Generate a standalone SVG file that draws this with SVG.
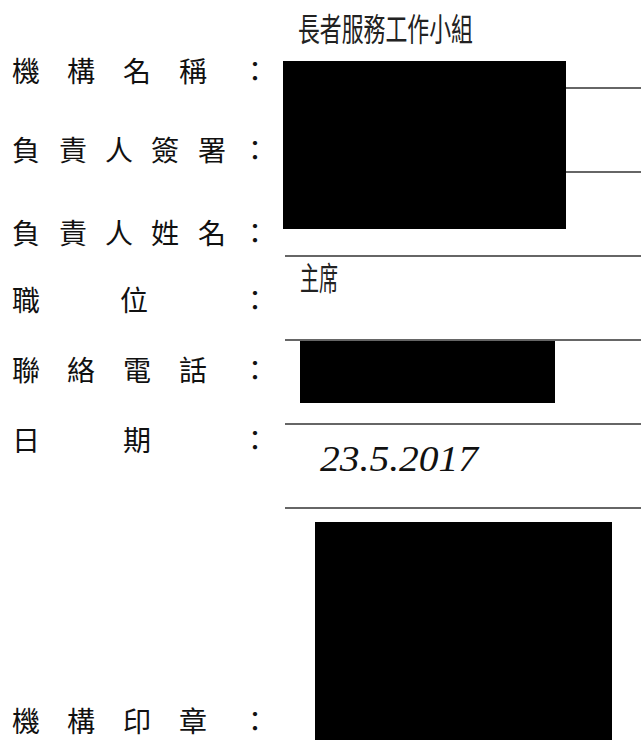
<svg xmlns="http://www.w3.org/2000/svg" width="641" height="740" viewBox="0 0 641 740">
<style>
.lbl{font-family:"Noto Sans CJK TC","Noto Sans CJK SC",sans-serif;font-size:28px;fill:#111;}
.val{font-family:"Noto Sans CJK TC","Noto Sans CJK SC",sans-serif;font-size:32px;fill:#222;}
.hand{font-family:"Liberation Serif",serif;font-style:italic;font-size:36px;fill:#111;}
.rule{stroke:#333;stroke-width:1.5;fill:none;}
.redact{fill:#000;}
</style>
<rect width="641" height="740" fill="#fff"/>
<g id="labels">
<text class="lbl" y="82"><tspan x="12">機</tspan><tspan x="67">構</tspan><tspan x="123">名</tspan><tspan x="179">稱</tspan><tspan x="241">：</tspan></text>
<text class="lbl" y="161"><tspan x="12">負</tspan><tspan x="59">責</tspan><tspan x="105">人</tspan><tspan x="151">簽</tspan><tspan x="198">署</tspan><tspan x="241">：</tspan></text>
<text class="lbl" y="244"><tspan x="12">負</tspan><tspan x="59">責</tspan><tspan x="105">人</tspan><tspan x="151">姓</tspan><tspan x="198">名</tspan><tspan x="241">：</tspan></text>
<text class="lbl" y="311"><tspan x="12">職</tspan><tspan x="120">位</tspan><tspan x="241">：</tspan></text>
<text class="lbl" y="381"><tspan x="12">聯</tspan><tspan x="67">絡</tspan><tspan x="123">電</tspan><tspan x="179">話</tspan><tspan x="241">：</tspan></text>
<text class="lbl" y="451"><tspan x="12">日</tspan><tspan x="123">期</tspan><tspan x="241">：</tspan></text>
<text class="lbl" y="732"><tspan x="12">機</tspan><tspan x="67">構</tspan><tspan x="123">印</tspan><tspan x="179">章</tspan><tspan x="241">：</tspan></text>
</g>
<g id="values">
<text class="val" x="298" y="41" textLength="175" lengthAdjust="spacingAndGlyphs">長者服務工作小組</text>
<text class="val" x="300" y="290" textLength="38" lengthAdjust="spacingAndGlyphs">主席</text>
<text class="hand" x="320" y="471" textLength="158" lengthAdjust="spacingAndGlyphs">23.5.2017</text>
</g>
<g id="rules">
<line class="rule" x1="566" y1="88" x2="641" y2="88"/>
<line class="rule" x1="566" y1="172" x2="641" y2="172"/>
<line class="rule" x1="285" y1="256" x2="641" y2="256"/>
<line class="rule" x1="285" y1="340" x2="641" y2="340"/>
<line class="rule" x1="285" y1="424" x2="641" y2="424"/>
<line class="rule" x1="285" y1="508" x2="641" y2="508"/>
</g>
<g id="redactions">
<rect class="redact" x="283" y="61" width="283" height="168"/>
<rect class="redact" x="300" y="341" width="255" height="62"/>
<rect class="redact" x="315" y="522" width="297" height="218"/>
</g>
</svg>
